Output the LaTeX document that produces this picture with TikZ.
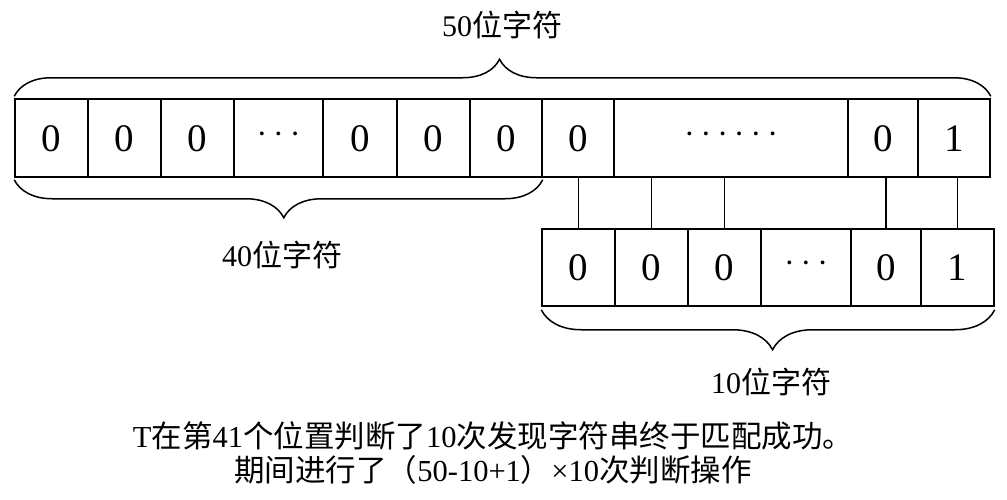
\documentclass[tikz,border=0pt]{standalone}
\usepackage{fontspec}
\setmainfont{Liberation Serif}
\newfontfamily\cjk{Noto Sans CJK SC}
\usetikzlibrary{decorations.pathreplacing}
% a row of n centred dots used as a placeholder cell
\newcommand\dotrun[1]{\raisebox{7pt}{\fontsize{32}{32}\selectfont
  \textperiodcentered\foreach \k in {2,...,#1}{\hspace{6pt}\textperiodcentered}}}
\begin{document}
\begin{tikzpicture}[x=1pt,y=-1pt,
  cell/.style={draw, line width=1.5pt, inner sep=0pt,
    font=\fontsize{39}{39}\selectfont, text height=26pt, text depth=0pt},
  toprow/.style={cell, minimum height=78pt},
  botrow/.style={cell, minimum height=77pt},
  link/.style={line width=1.5pt},
  curly/.style={decorate, line width=1.5pt,
    decoration={brace, amplitude=#1, aspect=0.49}},
  lbl/.style={font=\fontsize{30}{34}\selectfont, inner sep=0pt},
  captext/.style={font=\fontsize{30.5}{34}\selectfont, inner sep=0pt, align=center}]
\useasboundingbox (0,0) rectangle (1007,499);

% main string (50 characters)
\node[toprow, minimum width=73pt]  (t1)  at (51.5,138)  {0};
\node[toprow, minimum width=73pt]  (t2)  at (124.5,138) {0};
\node[toprow, minimum width=73pt]  (t3)  at (197.5,138) {0};
\node[toprow, minimum width=89pt]  (t4)  at (278.5,138) {\dotrun{3}};
\node[toprow, minimum width=74pt]  (t5)  at (360,138)   {0};
\node[toprow, minimum width=73pt]  (t6)  at (433.5,138) {0};
\node[toprow, minimum width=72pt]  (t7)  at (506,138)   {0};
\node[toprow, minimum width=72pt]  (t8)  at (578,138)   {0};
\node[toprow, minimum width=234pt] (t9)  at (731,138)   {\dotrun{6}};
\node[toprow, minimum width=70pt]  (t10) at (883,138)   {0};
\node[toprow, minimum width=72pt]  (t11) at (954,138)   {1};

% pattern string (10 characters)
\node[botrow, minimum width=73pt] (b1) at (578.5,267.5) {0};
\node[botrow, minimum width=73pt] (b2) at (651.5,267.5) {0};
\node[botrow, minimum width=73pt] (b3) at (724.5,267.5) {0};
\node[botrow, minimum width=90pt] (b4) at (806,267.5)   {\dotrun{3}};
\node[botrow, minimum width=70pt] (b5) at (886,267.5)   {0};
\node[botrow, minimum width=73pt] (b6) at (957.5,267.5) {1};

% alignment links between the two strings
\draw[link] (b1.north) -- (b1.north |- t8.south);
\draw[link] (b2.north) -- (b2.north |- t9.south);
\draw[link] (b3.north) -- (b3.north |- t9.south);
\draw[link] (b5.north) -- (b5.north |- t10.south);
\draw[link] (b6.north) -- (b6.north |- t11.south);

% braces
\draw[curly=37pt, decoration={aspect=0.497}]
  ([yshift=2pt]t1.north west) -- ([yshift=2pt]t11.north east);
\draw[curly=38pt, decoration={aspect=0.49}]
  ([yshift=-2pt]t7.south east) -- ([yshift=-2pt]t1.south west);
\draw[curly=40pt, decoration={aspect=0.49}]
  ([yshift=-3pt]b6.south east) -- ([yshift=-3pt]b1.south west);

% labels
\node[lbl] (l50) at (502,25)  {50{\cjk 位字符}};
\node[lbl] (l40) at (282,255) {40{\cjk 位字符}};
\node[lbl] (l10) at (771,382) {10{\cjk 位字符}};

\node[captext] (caption) at (493,453)
  {T{\cjk 在第}41{\cjk 个位置判断了}10{\cjk 次发现字符串终于匹配成功。}\\
   {\cjk 期间进行了（}50-10+1{\cjk ）}×10{\cjk 次判断操作}};
\end{tikzpicture}
\end{document}
